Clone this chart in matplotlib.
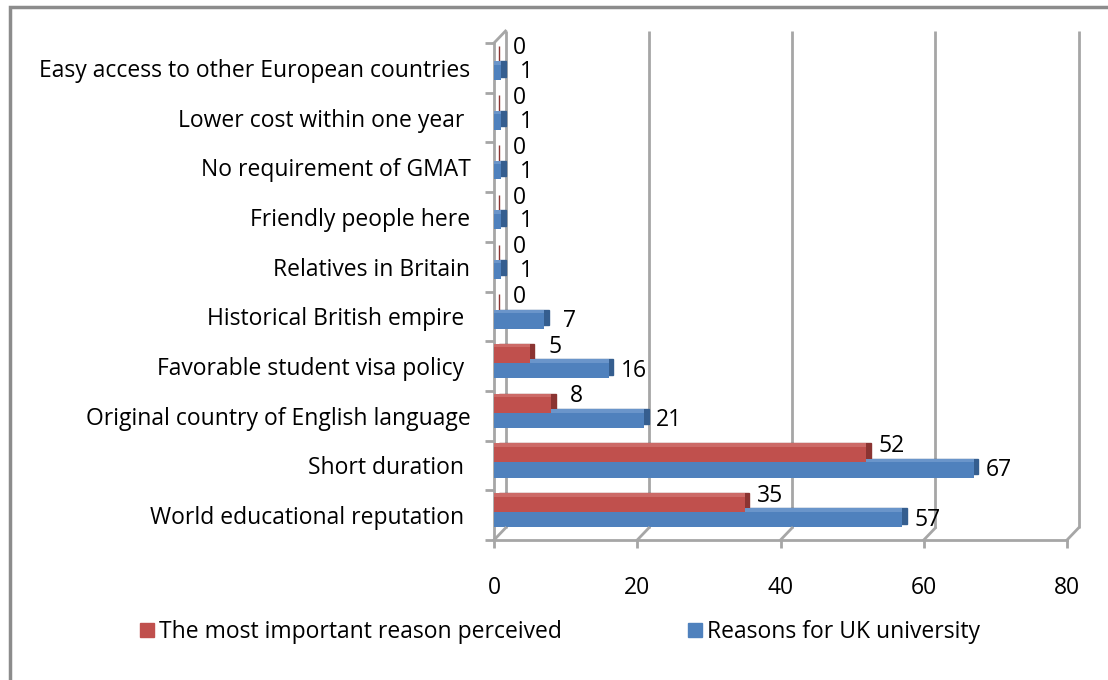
import matplotlib
matplotlib.use("Agg")
import matplotlib.pyplot as plt
import matplotlib.transforms as mtransforms
from matplotlib.patches import Patch, Rectangle
from matplotlib.lines import Line2D
import numpy as np

# ---- data (listed bottom to top) ----
reasons = [
    "World educational reputation ",
    "Short duration ",
    "Original country of English language",
    "Favorable student visa policy ",
    "Historical British empire ",
    "Relatives in Britain",
    "Friendly people here",
    "No requirement of GMAT",
    "Lower cost within one year ",
    "Easy access to other European countries",
]
most_important = [35, 52, 8, 5, 0, 0, 0, 0, 0, 0]
uk_reasons = [57, 67, 21, 16, 7, 1, 1, 1, 1, 1]
series_names = ["The most important reason perceived", "Reasons for UK university"]
x_ticks = [0, 20, 40, 60, 80]

# ---- style ----
FONT = "Open Sans"
FS = 16.5
RED, RED_TOP, RED_SIDE = "#C0504D", "#CC6A67", "#8B3432"
BLUE, BLUE_TOP, BLUE_SIDE = "#4F81BD", "#6A95CA", "#355E8F"
WALL = "#A6A6A6"

plt.rcParams["font.family"] = [FONT, "DejaVu Sans"]

W, H = 1108, 680
fig = plt.figure(figsize=(W / 100, H / 100), dpi=100)
ax = fig.add_axes([494 / W, 1 - 540 / H, 573 / W, (540 - 43) / H])

y = np.arange(len(reasons))
bar_h = 0.31
red_off, blue_off = 0.22, -0.09

# depth of the pseudo-3D effect, in inches
DX, DY = 0.045, 0.035
side_shift = ax.transData + mtransforms.ScaledTranslation(DX, DY, fig.dpi_scale_trans)
top_shift = ax.transData + mtransforms.ScaledTranslation(0, DY, fig.dpi_scale_trans)


def bars3d(values, ypos, front, top, side):
    ax.barh(ypos, values, height=bar_h, color=side, edgecolor=side, linewidth=1.0,
            transform=side_shift, zorder=3)
    ax.barh(ypos, values, height=bar_h, color=top, linewidth=0,
            transform=top_shift, zorder=4)
    ax.barh(ypos, values, height=bar_h, color=front, linewidth=0, zorder=5)


bars3d(uk_reasons, y + blue_off, BLUE, BLUE_TOP, BLUE_SIDE)
bars3d(most_important, y + red_off, RED, RED_TOP, RED_SIDE)

# value labels
lab_shift = ax.transData + mtransforms.ScaledTranslation(0.25, 0, fig.dpi_scale_trans)
for yi, v in zip(y, most_important):
    ax.text(v, yi + red_off + 0.17, str(v), transform=lab_shift, ha="center",
            va="center", fontsize=FS, color="black", zorder=6)
for yi, v in zip(y, uk_reasons):
    ax.text(v, yi + blue_off, str(v), transform=lab_shift, ha="center",
            va="center", fontsize=FS, color="black", zorder=6)

ax.set_xlim(0, 80)
ax.set_ylim(-0.5, len(reasons) - 0.5)

# back wall gridlines (shifted up/right) and floor diagonals
BX, BY = 0.115, 0.12
back = mtransforms.blended_transform_factory(ax.transData, ax.transAxes) + \
    mtransforms.ScaledTranslation(BX, BY, fig.dpi_scale_trans)
for xv in x_ticks:
    ax.plot([xv, xv], [0, 1], transform=back, color=WALL, lw=2, zorder=1,
            clip_on=False, solid_capstyle="butt")
    base = fig.dpi_scale_trans + mtransforms.ScaledTranslation(
        xv, 0, ax.get_xaxis_transform())
    fig.add_artist(Line2D([0, BX], [0, BY], transform=base, color=WALL, lw=2))
# top edge of the left wall
base_top = fig.dpi_scale_trans + mtransforms.ScaledTranslation(0, 1, ax.transAxes)
fig.add_artist(Line2D([0, BX], [0, BY], transform=base_top, color=WALL, lw=2))

# axes lines and ticks
for s in ["top", "right"]:
    ax.spines[s].set_visible(False)
for s in ["left", "bottom"]:
    ax.spines[s].set_color(WALL)
    ax.spines[s].set_linewidth(2)

ax.set_xticks(x_ticks)
ax.set_xticklabels([str(t) for t in x_ticks], fontsize=FS)
ax.tick_params(axis="x", direction="out", length=6, width=2, color=WALL, pad=20)

ax.set_yticks(y)
ax.set_yticklabels(reasons, fontsize=FS)
ax.tick_params(axis="y", which="major", length=0, pad=17)
ax.set_yticks(np.arange(-0.5, len(reasons)), minor=True)
ax.tick_params(axis="y", which="minor", direction="out", length=6.5, width=2, color=WALL)

# legends
leg_kw = dict(frameon=False, fontsize=FS, handlelength=0.6, handleheight=0.6,
              handletextpad=0.25, borderpad=0, borderaxespad=0, loc="center left")
fig.legend([Patch(color=RED)], [series_names[0]],
           bbox_to_anchor=(140 / W, 1 - 632 / H), **leg_kw)
fig.legend([Patch(color=BLUE)], [series_names[1]],
           bbox_to_anchor=(688 / W, 1 - 632 / H), **leg_kw)

# outer chart border
fig.add_artist(Rectangle((10 / W, -0.05), 1.2, 1.05 - 7 / H, transform=fig.transFigure,
                         fill=False, edgecolor="#8C8C8C", lw=2.5))

fig.savefig("out.png", dpi=100)
